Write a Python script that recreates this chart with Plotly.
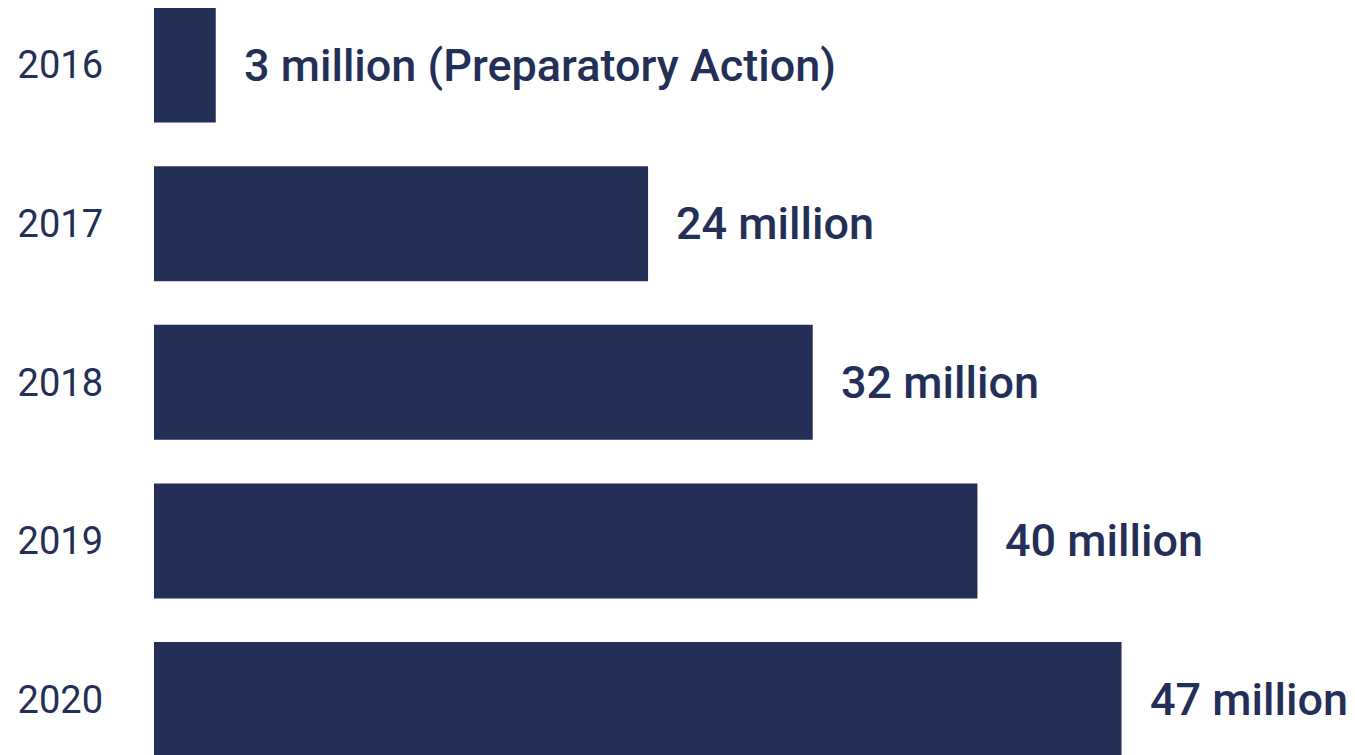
import plotly.graph_objects as go

years = ["2016", "2017", "2018", "2019", "2020"]
values = [3, 24, 32, 40, 47]
labels = ["3 million (Preparatory Action)", "24 million", "32 million", "40 million", "47 million"]

navy = "#232f57"

fig = go.Figure()
fig.add_trace(go.Bar(
    x=values, y=years, orientation="h",
    marker=dict(color=navy, line=dict(width=0)),
    width=0.725, hoverinfo="skip",
))

for i, (v, t) in enumerate(zip(values, labels)):
    fig.add_annotation(
        xref="x", yref="y",
        x=v, y=i, text=t, showarrow=False, xanchor="left", yanchor="middle",
        xshift=26, font=dict(family="Roboto", size=45, color=navy, weight=500),
    )

fig.update_layout(
    width=1355, height=755,
    margin=dict(l=146, r=0, t=0, b=0),
    plot_bgcolor="white", paper_bgcolor="white",
    showlegend=False,
    xaxis=dict(range=[0, 58.73], visible=False, fixedrange=True),
    yaxis=dict(
        type="category", categoryorder="array", categoryarray=years,
        range=[4.40, -0.36], showgrid=False, zeroline=False, showline=False,
        ticks="", ticklabelstandoff=50,
        tickfont=dict(family="Roboto", size=38, color=navy, weight=400),
    ),
)

fig.write_html("out.html")
